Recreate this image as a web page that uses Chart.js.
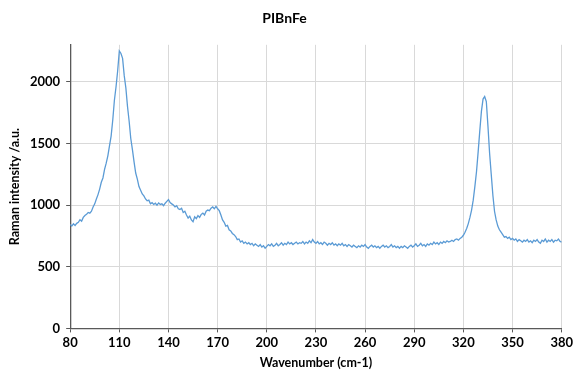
<!DOCTYPE html>
<html>
<head>
<meta charset="utf-8">
<script src="https://cdn.jsdelivr.net/npm/chart.js@4/dist/chart.umd.min.js"></script>
<style>
  html, body { margin: 0; padding: 0; background: #fff; }
  #wrap { width: 576px; height: 373px; }
</style>
</head>
<body>
<div id="wrap"><canvas id="myChart"></canvas></div>
<script>
// wavenumber axis: 80 .. 380, one reading per cm-1
const wavenumberStart = 80;
const intensity = [
  843, 830, 848, 835, 852, 860, 882, 870, 900, 915,        // 80-89
  925, 940, 935, 950, 985, 1010, 1050, 1085, 1130, 1185,   // 90-99
  1220, 1290, 1340, 1400, 1480, 1560, 1690, 1850, 1960, 2090, // 100-109
  2250, 2230, 2190, 2050, 1950, 1800, 1680, 1540, 1450, 1350, // 110-119
  1260, 1210, 1150, 1120, 1090, 1075, 1050, 1035, 1040, 1010, // 120-129
  1020, 1005, 1015, 1000, 1018, 1005, 1010, 995, 1015, 1030,  // 130-139
  1045, 1020, 1010, 1000, 985, 995, 970, 965, 975, 940,      // 140-149
  950, 920, 895, 910, 880, 865, 905, 890, 915, 900,          // 150-159
  925, 935, 920, 950, 960, 955, 975, 985, 970, 990,          // 160-169
  970, 955, 920, 880, 860, 830, 835, 800, 790, 770,          // 170-179
  760, 745, 720, 725, 700, 710, 690, 700, 685, 695,          // 180-189
  680, 690, 670, 685, 675, 665, 680, 660, 670, 650,          // 190-199
  665, 680, 670, 685, 665, 675, 690, 670, 680, 695,          // 200-209
  675, 690, 680, 700, 685, 695, 680, 690, 700, 685,          // 210-219
  695, 690, 705, 685, 700, 690, 710, 695, 720, 700,          // 220-229
  690, 705, 685, 695, 680, 700, 690, 675, 690, 680,          // 230-239
  695, 675, 685, 670, 685, 675, 690, 670, 680, 665,          // 240-249
  680, 670, 660, 675, 665, 655, 670, 660, 675, 665,          // 250-259
  680, 660, 650, 665, 675, 660, 670, 655, 665, 650,          // 260-269
  665, 675, 660, 670, 655, 665, 680, 660, 670, 655,          // 270-279
  665, 650, 665, 655, 670, 660, 650, 665, 675, 660,          // 280-289
  670, 685, 665, 675, 690, 670, 680, 665, 685, 675,          // 290-299
  690, 680, 700, 685, 695, 680, 700, 690, 705, 695,          // 300-309
  710, 700, 705, 715, 705, 720, 725, 715, 730, 740,          // 310-319
  755, 780, 810, 850, 900, 960, 1040, 1150, 1270, 1430,      // 320-329
  1600, 1760, 1860, 1880, 1840, 1640, 1420, 1250, 1080, 950, // 330-339
  880, 830, 800, 780, 760, 740, 745, 730, 740, 720,          // 340-349
  730, 715, 725, 705, 720, 710, 700, 715, 705, 720,          // 350-359
  700, 710, 695, 715, 705, 720, 700, 690, 715, 705,          // 360-369
  725, 700, 715, 705, 720, 700, 715, 710, 725, 705,          // 370-379
  700                                                        // 380
];
const xTicks = [80, 110, 140, 170, 200, 230, 260, 290, 320, 350, 380];
const yTicks = [0, 500, 1000, 1500, 2000];

const points = intensity.map((v, i) => ({ x: wavenumberStart + i, y: v }));

const axisDark = '#595959';
const gridGrey = '#d9d9d9';
const fontFam = 'Lato, "Open Sans", sans-serif';

const ctx = document.getElementById('myChart').getContext('2d');
new Chart(ctx, {
  type: 'line',
  data: {
    datasets: [{
      data: points,
      borderColor: '#5B9BD5',
      borderWidth: 1.3,
      pointRadius: 0,
      tension: 0,
      fill: false
    }]
  },
  options: {
    responsive: true,
    maintainAspectRatio: false,
    animation: false,
    layout: { padding: { left: 7, right: 14, top: 6, bottom: 3 } },
    plugins: {
      legend: { display: false },
      tooltip: { enabled: false },
      title: {
        display: true,
        text: 'PIBnFe',
        color: '#000',
        font: { family: fontFam, size: 14, weight: 'bold' },
        padding: { top: 4, bottom: 18 }
      }
    },
    scales: {
      x: {
        type: 'linear',
        min: 80,
        max: 380,
        afterBuildTicks: axis => { axis.ticks = xTicks.map(v => ({ value: v })); },
        ticks: {
          color: '#000',
          font: { family: fontFam, size: 13, weight: 'bold' },
          maxRotation: 0,
          padding: 3,
          callback: v => String(v)
        },
        grid: {
          color: gridGrey,
          lineWidth: 1,
          tickColor: axisDark,
          tickLength: 4
        },
        border: { color: axisDark, width: 1.3 },
        title: {
          display: true,
          text: 'Wavenumber (cm-1)',
          color: '#000',
          font: { family: fontFam, size: 12.5, weight: 'bold' },
          padding: { top: 1, bottom: 0 }
        }
      },
      y: {
        min: 0,
        max: 2300,
        afterBuildTicks: axis => { axis.ticks = yTicks.map(v => ({ value: v })); },
        ticks: {
          color: '#000',
          font: { family: fontFam, size: 13, weight: 'bold' },
          padding: 6,
          callback: v => String(v)
        },
        grid: {
          color: gridGrey,
          lineWidth: 1,
          tickColor: axisDark,
          tickLength: 4
        },
        border: { color: axisDark, width: 1.3 },
        title: {
          display: true,
          text: 'Raman intensity /a.u.',
          color: '#000',
          font: { family: fontFam, size: 12.5, weight: 'bold' },
          padding: { top: 0, bottom: 2 }
        }
      }
    }
  }
});
</script>
</body>
</html>
